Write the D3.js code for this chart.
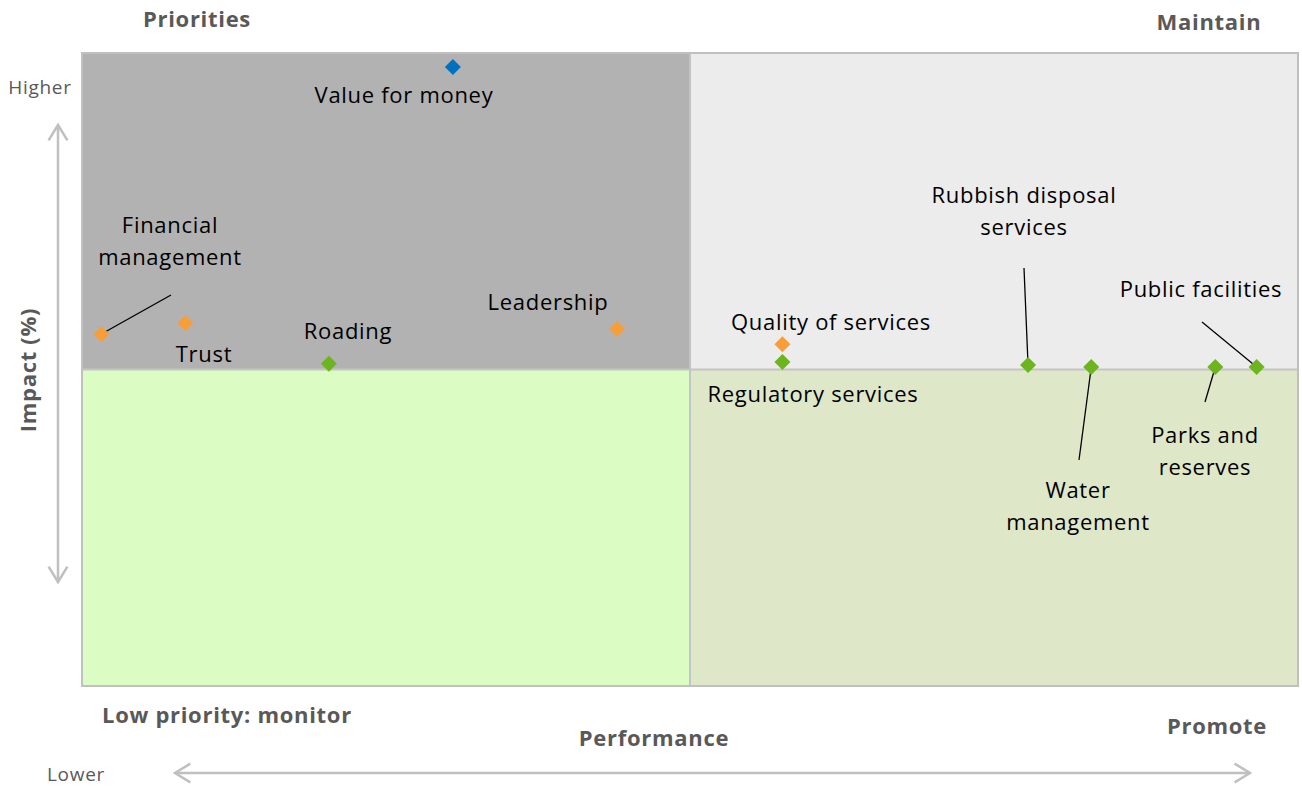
<!DOCTYPE html>
<html><head><meta charset="utf-8">
<script src="https://cdn.jsdelivr.net/npm/d3@7"></script>
<style>body{margin:0;background:#fff}svg{display:block}text{font-family:"Open Sans",sans-serif;letter-spacing:0.7px}</style>
</head><body>
<script>
const names = ["Value for money","Financial management","Trust","Roading","Leadership","Quality of services","Regulatory services","Rubbish disposal services","Water management","Parks and reserves","Public facilities"];
const performance = [3.05,0.16,0.85,2.03,4.40,5.76,5.76,7.78,8.30,9.32,9.66];
const impact = [9.78,5.56,5.73,5.09,5.64,5.40,5.12,5.07,5.04,5.04,5.04];
const groups = ["blue","orange","orange","green","orange","orange","green","green","green","green","green"];
const quadrantNames = ["Priorities","Maintain","Low priority: monitor","Promote"];
const axisLabels = ["Performance","Impact (%)","Higher","Lower"];

const W=1302,H=787;
const svg=d3.select("body").append("svg").attr("width",W).attr("height",H);
const x=d3.scaleLinear().domain([0,10]).range([82,1298]);
const y=d3.scaleLinear().domain([0,10]).range([686,53]);
const color=d3.scaleOrdinal().domain(["blue","orange","green"]).range(["#0070c0","#f79e3b","#6db51e"]);

const quads=[{x0:0,x1:5,y0:5,y1:10,c:"#b2b2b2"},{x0:5,x1:10,y0:5,y1:10,c:"#ececec"},{x0:0,x1:5,y0:0,y1:5,c:"#dbfcc2"},{x0:5,x1:10,y0:0,y1:5,c:"#dfe7c9"}];
svg.selectAll("rect.q").data(quads).join("rect").attr("class","q")
 .attr("x",d=>x(d.x0)).attr("y",d=>y(d.y1)).attr("width",d=>x(d.x1)-x(d.x0)).attr("height",d=>y(d.y0)-y(d.y1)).attr("fill",d=>d.c);
svg.append("line").attr("x1",x(5)).attr("x2",x(5)).attr("y1",y(0)).attr("y2",y(10)).attr("stroke","#c4c4c4").attr("stroke-width",2);
svg.append("line").attr("x1",x(0)).attr("x2",x(10)).attr("y1",y(5)).attr("y2",y(5)).attr("stroke","#c4c4c4").attr("stroke-width",2);
svg.append("rect").attr("x",x(0)).attr("y",y(10)).attr("width",x(10)-x(0)).attr("height",y(0)-y(10)).attr("fill","none").attr("stroke","#c0c0c0").attr("stroke-width",2);

const labelCfg=[
 {lines:["Value for money"],cx:404,cy:95},
 {lines:["Financial","management"],cx:170,cy:225,leader:[171,295]},
 {lines:["Trust"],cx:204,cy:354},
 {lines:["Roading"],cx:348,cy:331},
 {lines:["Leadership"],cx:548,cy:302},
 {lines:["Quality of services"],cx:831,cy:322},
 {lines:["Regulatory services"],cx:813,cy:394},
 {lines:["Rubbish disposal","services"],cx:1024,cy:195,leader:[1024,268]},
 {lines:["Water","management"],cx:1078,cy:490,leader:[1079,460]},
 {lines:["Parks and","reserves"],cx:1205,cy:435,leader:[1205,402]},
 {lines:["Public facilities"],cx:1201,cy:289,leader:[1202,322]}
];
const pts=names.map((n,i)=>({n,px:x(performance[i]),py:y(impact[i]),g:groups[i],cfg:labelCfg[i]}));

svg.selectAll("line.leader").data(pts.filter(d=>d.cfg.leader)).join("line").attr("class","leader")
 .attr("x1",d=>d.px).attr("y1",d=>d.py).attr("x2",d=>d.cfg.leader[0]).attr("y2",d=>d.cfg.leader[1])
 .attr("stroke","#000").attr("stroke-width",1.3);

const diamond="M0,-8L8,0L0,8L-8,0Z";
svg.selectAll("path.pt").data(pts).join("path").attr("class","pt").attr("d",diamond)
 .attr("transform",d=>`translate(${d.px},${d.py})`).attr("fill",d=>color(d.g));

pts.forEach(d=>{
 const t=svg.append("text").attr("text-anchor","middle").attr("font-size",22).attr("fill","#000");
 d.cfg.lines.forEach((l,k)=>t.append("tspan").attr("x",d.cfg.cx).attr("y",d.cfg.cy+k*32).attr("dy","0.35em").text(l));
});

const qt=[{t:quadrantNames[0],x:197,y:19,a:"middle"},{t:quadrantNames[1],x:1209,y:22,a:"middle"},{t:quadrantNames[2],x:102,y:715,a:"start"},{t:quadrantNames[3],x:1217,y:726,a:"middle"}];
qt.forEach(q=>svg.append("text").attr("x",q.x).attr("y",q.y).attr("dy","0.35em").attr("text-anchor",q.a).attr("font-size",22).attr("font-weight","bold").attr("fill","#595959").text(q.t));
svg.append("text").attr("x",654).attr("y",738).attr("dy","0.35em").attr("text-anchor","middle").attr("font-size",22).attr("font-weight","bold").attr("fill","#595959").text(axisLabels[0]);
svg.append("text").attr("transform","translate(28,370) rotate(-90)").attr("dy","0.35em").attr("text-anchor","middle").attr("font-size",22).attr("font-weight","bold").attr("fill","#595959").text(axisLabels[1]);
svg.append("text").attr("x",40).attr("y",87).attr("dy","0.35em").attr("text-anchor","middle").attr("font-size",19).attr("fill","#595959").text(axisLabels[2]);
svg.append("text").attr("x",76).attr("y",774).attr("dy","0.35em").attr("text-anchor","middle").attr("font-size",19).attr("fill","#595959").text(axisLabels[3]);

const ac="#c0c0c0";
function arrow(x1,y1,x2,y2){
 svg.append("line").attr("x1",x1).attr("y1",y1).attr("x2",x2).attr("y2",y2).attr("stroke",ac).attr("stroke-width",2.5);
 const ang=Math.atan2(y2-y1,x2-x1);
 [[x1,y1,ang+Math.PI],[x2,y2,ang]].forEach(([px,py,a])=>{
  const L=18,s=0.55;
  const p1=[px-L*Math.cos(a-s),py-L*Math.sin(a-s)],p2=[px-L*Math.cos(a+s),py-L*Math.sin(a+s)];
  svg.append("path").attr("d",`M${p1}L${px},${py}L${p2}`).attr("fill","none").attr("stroke",ac).attr("stroke-width",2.5);
 });
}
arrow(58,125,58,582);
arrow(175,773,1250,773);
</script>
</body></html>
